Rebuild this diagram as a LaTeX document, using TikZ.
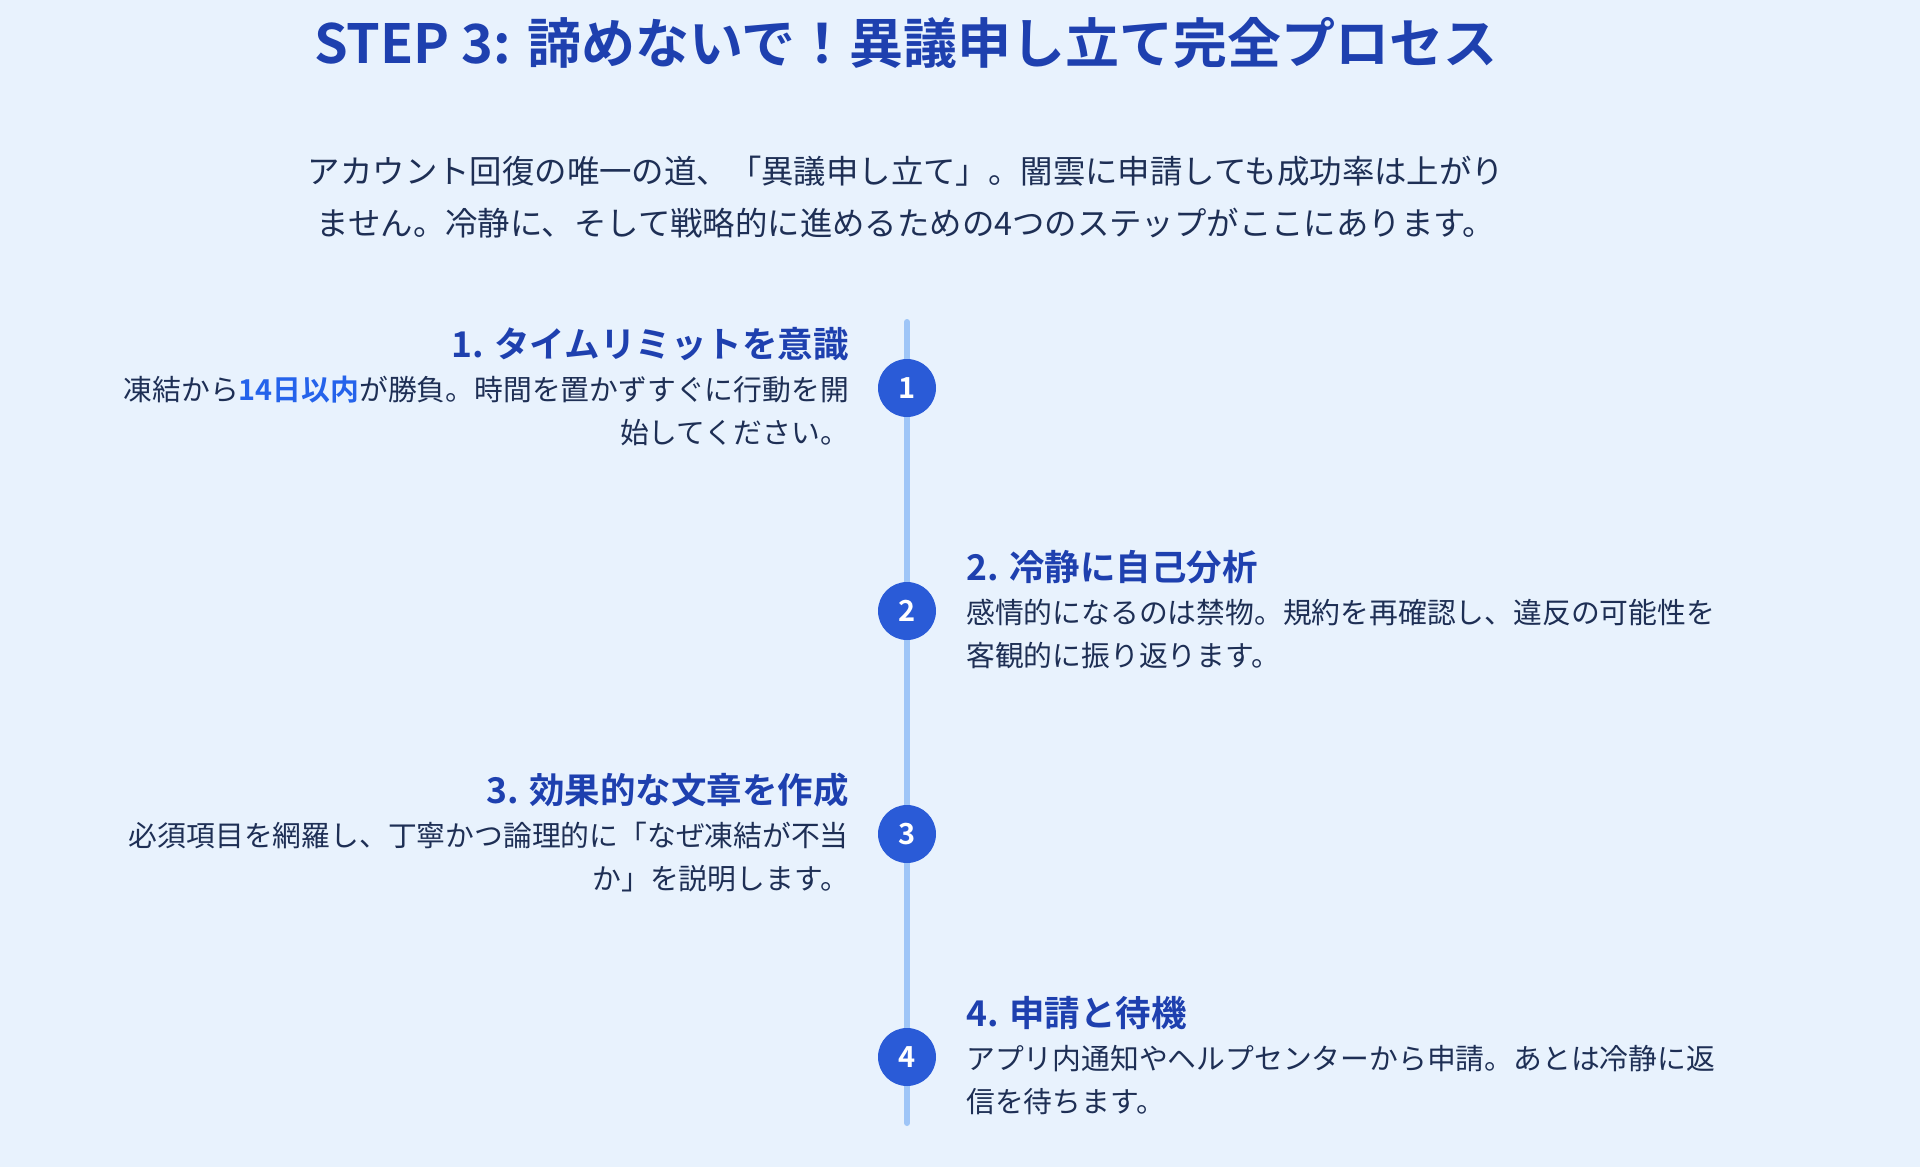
\documentclass[tikz,border=0pt]{standalone}
\usepackage{fontspec}
\setmainfont{Noto Sans CJK JP}[BoldFont={Noto Sans CJK JP Bold}]
\usetikzlibrary{positioning}
\definecolor{bgblue}{HTML}{E8F2FD}
\definecolor{headblue}{HTML}{1E40AF}
\definecolor{textnavy}{HTML}{1E2F55}
\definecolor{dotblue}{HTML}{2A5BD7}
\definecolor{railblue}{HTML}{9EC5F7}
\definecolor{hlblue}{HTML}{2563EB}
\begin{document}
\begin{tikzpicture}[x=1pt,y=-1pt,inner sep=0pt,
  title/.style={font=\fontsize{54}{64}\selectfont\bfseries,text=headblue},
  intro/.style={font=\fontsize{32.4}{52}\selectfont,text=textnavy,align=center},
  head/.style={font=\fontsize{35.5}{44}\selectfont\bfseries,text=headblue},
  body/.style={font=\fontsize{28.8}{43}\selectfont,text=textnavy},
  num/.style={circle,fill=dotblue,minimum size=58pt,text=white,font=\fontsize{29}{32}\selectfont\bfseries},
  rail/.style={railblue,line width=6pt,line cap=round}]
 \fill[bgblue] (0,0) rectangle (1920,1167);
 \node[title] (ttl) at (906,43) {STEP 3: 諦めないで！異議申し立て完全プロセス};
 \node[intro] (lead) at (906,197) {アカウント回復の唯一の道、「異議申し立て」。闇雲に申請しても成功率は上がり\\ません。冷静に、そして戦略的に進めるための4つのステップがここにあります。};
 % timeline
 \coordinate (top) at (907,322);
 \coordinate (bot) at (907,1123);
 \draw[rail] (top) -- (bot);
 \foreach \i/\y in {1/388,2/611,3/834,4/1057}
  \node[num] (c\i) at (907,\y) {\i};
 % steps
 \node[head,anchor=east] (h1) at (849,344) {1. タイムリミットを意識};
 \node[body,align=right,below left=15pt and 0pt of h1.south east] (b1) {凍結から\textcolor{hlblue}{\bfseries 14日以内}が勝負。時間を置かずすぐに行動を開\\始してください。};
 \node[head,anchor=west] (h2) at (966,567) {2. 冷静に自己分析};
 \node[body,align=left,below right=15pt and 0pt of h2.south west] (b2) {感情的になるのは禁物。規約を再確認し、違反の可能性を\\客観的に振り返ります。};
 \node[head,anchor=east] (h3) at (849,790) {3. 効果的な文章を作成};
 \node[body,align=right,below left=15pt and 0pt of h3.south east] (b3) {必須項目を網羅し、丁寧かつ論理的に「なぜ凍結が不当\\か」を説明します。};
 \node[head,anchor=west] (h4) at (966,1013) {4. 申請と待機};
 \node[body,align=left,below right=15pt and 0pt of h4.south west] (b4) {アプリ内通知やヘルプセンターから申請。あとは冷静に返\\信を待ちます。};
\end{tikzpicture}
\end{document}
